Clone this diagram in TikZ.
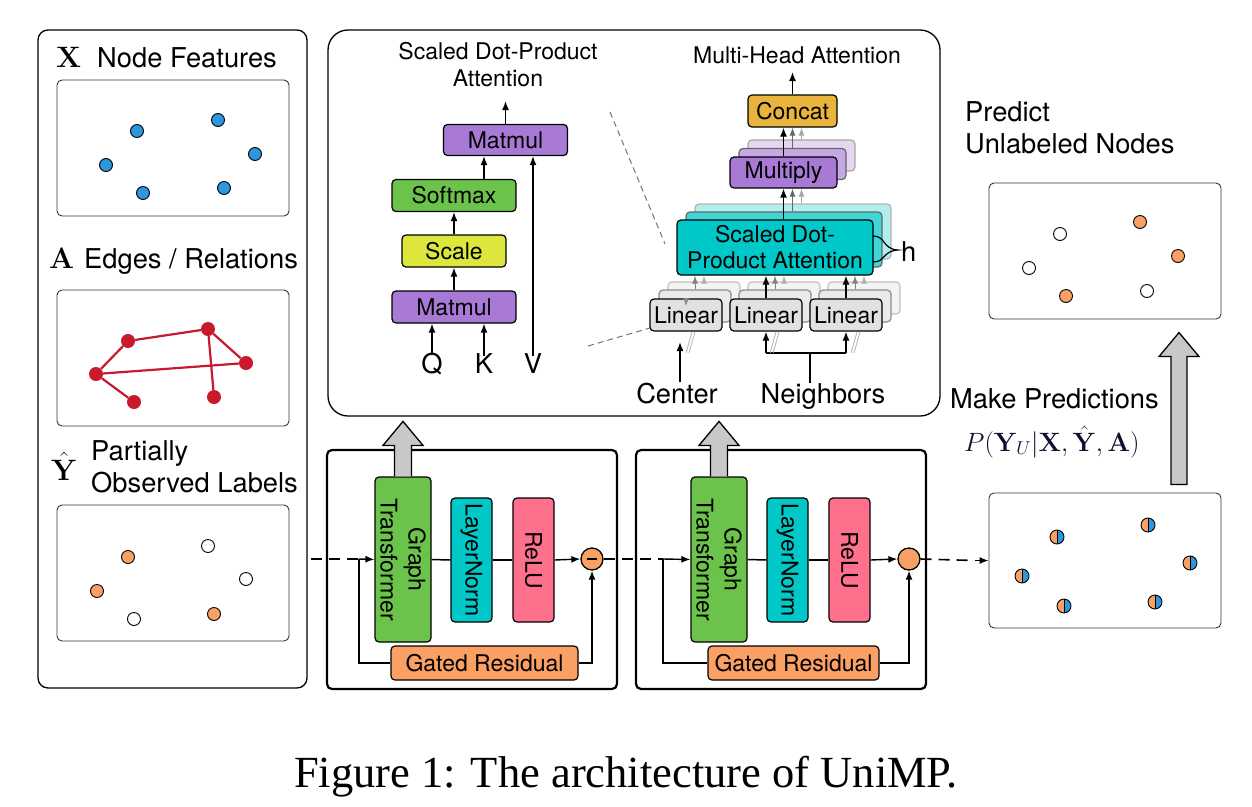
\RequirePackage{fix-cm}
\documentclass[tikz,border=0pt]{standalone}
\usepackage[no-math]{fontspec}
\setmainfont{TeX Gyre Heros}
\newfontfamily\capfont{Liberation Serif}
\usetikzlibrary{arrows.meta,calc}
\definecolor{cblue}{RGB}{45,150,220}
\definecolor{cred}{RGB}{200,25,45}
\definecolor{corange}{RGB}{250,160,100}
\definecolor{cgreen}{RGB}{108,195,75}
\definecolor{cteal}{RGB}{0,200,200}
\definecolor{cpink}{RGB}{255,112,140}
\definecolor{cpurple}{RGB}{168,122,214}
\definecolor{cyellow}{RGB}{220,230,60}
\definecolor{cgold}{RGB}{232,180,60}
\definecolor{clin}{RGB}{225,225,225}
\definecolor{cfat}{RGB}{200,200,200}
\definecolor{cmath}{RGB}{15,15,50}
\newcommand\bxf{\fontsize{23}{27}\selectfont}
\newcommand\lbf{\fontsize{27.3}{32}\selectfont}
\newcommand\msf{\fontsize{29.5}{32}\selectfont}
\begin{document}
\begin{tikzpicture}[x=1pt,y=-1pt,
  box/.style={draw=black, line width=1.2pt, rounded corners=4pt, inner sep=0pt, font=\bxf, align=center},
  panel/.style={draw=black, line width=1.3pt, rounded corners=10pt, inner sep=0pt},
  block/.style={draw=black, line width=2.2pt, rounded corners=5pt, inner sep=0pt},
  sbox/.style={draw=black!80, line width=0.9pt, rounded corners=5pt, inner sep=0pt, minimum width=232pt},
  arr/.style={-{Latex[length=9pt,width=7pt]}, line width=1.4pt},
  garr/.style={-{Latex[length=8pt,width=6pt]}, line width=1pt},
  dsh/.style={line width=1.6pt, dash pattern=on 11pt off 7pt},
  flow/.style={line width=1.5pt},
  lab/.style={font=\lbf, inner sep=0pt},
  msym/.style={font=\msf, inner sep=0pt},
  dot/.style={circle, draw=black, line width=0.9pt, minimum width=13pt, minimum height=12pt, inner sep=0pt},
  rdot/.style={circle, fill=cred, minimum size=14pt, inner sep=0pt},
  half/.style={circle, draw=black, line width=0.9pt, minimum size=14pt, inner sep=0pt,
    path picture={\fill[corange] (path picture bounding box.south west) rectangle (path picture bounding box.north);
                  \fill[cblue] (path picture bounding box.south) rectangle (path picture bounding box.north east);
                  \draw[line width=0.9pt] (path picture bounding box.south) -- (path picture bounding box.north);}},
  fat/.style={draw=black, fill=cfat, line width=1.3pt},
  faint/.style={draw=black!30, line width=0.8pt}
]
\useasboundingbox (0,0) rectangle (1252,806);

% ---------------- left panel ----------------
\node[panel, minimum width=269pt, minimum height=658pt] (left) at (172.5,359) {};
\node[msym, anchor=base west] (xsym) at (56,67) {$\mathbf{X}$};
\node[lab, anchor=base west] (xlab) at (97,67) {Node Features};
\node[sbox, minimum height=136pt] (bx1) at (173,148) {};
\foreach \n/\p in {b1/{(137,131)},b2/{(218,120)},b3/{(255,154)},b4/{(106,165)},b5/{(143,193)},b6/{(224,188)}}
  \node[dot, fill=cblue] (\n) at \p {};

\node[msym, anchor=base west] (asym) at (49,268) {$\mathbf{A}$};
\node[lab, anchor=base west] (alab) at (84,268) {Edges / Relations};
\node[sbox, minimum height=136pt] (bx2) at (173,358) {};
\node[rdot] (r1) at (128,341) {};
\node[rdot] (r2) at (208,329) {};
\node[rdot] (r3) at (246,363) {};
\node[rdot] (r4) at (96,374) {};
\node[rdot] (r5) at (134,402) {};
\node[rdot] (r6) at (214,397) {};
\begin{scope}[draw=cred, line width=2.2pt]
\draw (r4) -- (r1); \draw (r1) -- (r2); \draw (r2) -- (r3);
\draw (r2) -- (r6); \draw (r4) -- (r3); \draw (r4) -- (r5);
\end{scope}

\node[msym, anchor=base west] (ysym) at (51,480) {$\hat{\mathbf{Y}}$};
\node[lab, anchor=north west, align=left] (ylab) at (91,440) {Partially\\Observed Labels};
\node[sbox, minimum height=136pt] (bx3) at (173,573) {};
\node[dot, fill=corange] (y1) at (128,557) {};
\node[dot, fill=white] (y2) at (208,546) {};
\node[dot, fill=white] (y3) at (246,579) {};
\node[dot, fill=corange] (y4) at (97,591) {};
\node[dot, fill=white] (y5) at (134,619) {};
\node[dot, fill=corange] (y6) at (214,614) {};

% ---------------- top panel ----------------
\node[panel, rounded corners=20pt, minimum width=612pt, minimum height=386pt] (top) at (634,223) {};
% scaled dot-product attention
\node[font=\bxf, align=center, anchor=north, inner sep=0pt] (sdtitle) at (498,42) {Scaled Dot-Product\\Attention};
\node[box, fill=cpurple, minimum width=124pt, minimum height=31pt] (mm2) at (505.5,140) {Matmul};
\node[box, fill=cgreen, minimum width=124pt, minimum height=32pt] (soft) at (454,195.5) {Softmax};
\node[box, fill=cyellow, minimum width=104pt, minimum height=32pt] (scl) at (454,251) {Scale};
\node[box, fill=cpurple, minimum width=124pt, minimum height=32pt] (mm1) at (454,307) {Matmul};
\node[lab, anchor=base] (q) at (432,373) {Q};
\node[lab, anchor=base] (k) at (484,373) {K};
\node[lab, anchor=base] (v) at (533,373) {V};
\coordinate (sdout) at (505.5,101);
\draw[arr] (mm2.north) -- (sdout);
\draw[arr] (soft.north -| k) -- (mm2.south -| k);
\draw[arr] (scl) -- (soft);
\draw[arr] (mm1) -- (scl);
\draw[arr] ([yshift=-3pt]q.north) -- (mm1.south -| q);
\draw[arr] ([yshift=-3pt]k.north) -- (mm1.south -| k);
\draw[arr] ([yshift=-3pt]v.north) -- (mm2.south -| v);

% multi-head attention
\node[font=\bxf, inner sep=0pt] (mhtitle) at (797,55) {Multi-Head Attention};
\node[box, fill=cgold, minimum width=89pt, minimum height=32pt] (concat) at (792.5,111) {Concat};
\coordinate (mhout) at (792.5,72);
\draw[arr] (concat.north) -- (mhout);

\node[box, draw=black!35, fill=cpurple!30, minimum width=107pt, minimum height=31pt] (mul3) at (801.5,155.5) {};
\node[box, draw=black!60, fill=cpurple!65, minimum width=107pt, minimum height=31pt] (mul2) at (792.5,164) {};
\node[box, fill=cpurple, minimum width=107pt, minimum height=31pt] (mul) at (783.5,172.5) {Multiply};

\node[box, draw=black!30, fill=cteal!30, minimum width=196pt, minimum height=55pt] (sd3) at (793,231.5) {};
\node[box, draw=black!60, fill=cteal!75, minimum width=196pt, minimum height=55pt] (sd2) at (784,239.5) {};
\node[box, fill=cteal, minimum width=196pt, minimum height=55pt, font=\fontsize{23}{26}\selectfont] (sd) at (775,247.5) {Scaled Dot-\\Product Attention};

\foreach \i/\cx in {1/686,2/766,3/846}{
  \node[box, draw=black!25, fill=clin!40, minimum width=72pt, minimum height=32pt] (lin\i c) at (\cx+18,298) {};
  \node[box, draw=black!45, fill=clin!70, minimum width=72pt, minimum height=32pt] (lin\i b) at (\cx+9,306) {};
  \node[box, fill=clin, minimum width=72pt, minimum height=32pt] (lin\i) at (\cx,315) {Linear};
}

% arrows inside multi-head
\draw[arr] (mul.north -| mul) -- (concat.south -| mul);
\draw[garr, draw=black!60] (mul2.north) -- (concat.south -| mul2);
\draw[garr, draw=black!35] (mul3.north) -- (concat.south -| mul3);
\draw[arr] (sd.north -| mul) -- (mul.south);
\draw[garr, draw=black!60] (sd2.north -| mul2) -- (mul.south -| mul2);
\draw[garr, draw=black!35] (sd3.north -| mul3) -- (mul.south -| mul3);
\draw[garr, draw=black!45] (lin1.north) -- ([yshift=-8pt]lin1.north);
\draw[garr, draw=black!50] (lin1b.north) -- (sd.south -| lin1b);
\draw[garr, draw=black!30] (lin1c.north) -- (sd.south -| lin1c);
\foreach \i in {2,3}{
  \draw[arr] (lin\i.north) -- (sd.south -| lin\i);
  \draw[garr, draw=black!50] (lin\i b.north) -- (sd.south -| lin\i b);
  \draw[garr, draw=black!30] (lin\i c.north) -- (sd.south -| lin\i c);
}
% h brace
\draw[line width=1.2pt] (873,236) .. controls (886,236) and (882,249) .. (898,250)
                        .. controls (882,251) and (886,262) .. (873,262);
\node[lab, anchor=base west] (hl) at (901,261) {h};

% inputs
\node[lab, anchor=base] (cen) at (677,403) {Center};
\node[lab, anchor=base] (nei) at (823,403) {Neighbors};
\coordinate (cenend) at (680,342);
\draw[arr] (cenend |- cen.north) -- (cenend);
\coordinate (njoin) at (810,353);
\draw[line width=1.2pt] (njoin |- nei.north) -- (njoin);
\draw[line width=1.2pt] (njoin -| lin2) -- (njoin -| lin3);
\draw[arr] (njoin -| lin2) -- (lin2.south);
\draw[arr] (njoin -| lin3) -- (lin3.south);
\foreach \x in {686,770,851}{
  \draw[faint] (\x,353) -- (\x+6,332);
  \draw[faint] (\x+3,353) -- (\x+9,332);
}
% dashed zoom lines
\coordinate (z1a) at (610,112); \coordinate (z1b) at (665,244);
\coordinate (z2a) at (588,346); \coordinate (z2b) at (650,328);
\draw[black!55, line width=1pt, dash pattern=on 6pt off 4pt] (z1a) -- (z1b);
\draw[black!55, line width=1pt, dash pattern=on 6pt off 4pt] (z2a) -- (z2b);

% ---------------- bottom blocks ----------------
\node[block, minimum width=290pt, minimum height=239pt] (blk1) at (472,569.5) {};
\node[block, minimum width=290pt, minimum height=239pt] (blk2) at (781,569.5) {};

% rotated -90: node south = page left, node north = page right, node west = page top
\node[box, fill=cgreen, rotate=-90, minimum width=165pt, minimum height=56pt, font=\fontsize{23}{28}\selectfont] (gt1) at (403,559.5) {Graph\\Transformer};
\node[box, fill=cteal, rotate=-90, minimum width=124pt, minimum height=41pt] (ln1) at (471.5,560) {LayerNorm};
\node[box, fill=cpink, rotate=-90, minimum width=124pt, minimum height=41pt] (rl1) at (533.5,560) {ReLU};
\node[circle, draw=black, line width=1.3pt, fill=corange, minimum size=22pt, inner sep=0pt] (c1) at (592,559) {};
\draw[line width=1.6pt] ([xshift=-5pt]c1.center) -- ([xshift=5pt]c1.center);
\node[box, fill=corange, minimum width=187pt, minimum height=34pt] (gr1) at (484.5,663) {Gated Residual};

\node[box, fill=cgreen, rotate=-90, minimum width=165pt, minimum height=56pt, font=\fontsize{23}{28}\selectfont] (gt2) at (719,559.5) {Graph\\Transformer};
\node[box, fill=cteal, rotate=-90, minimum width=124pt, minimum height=41pt] (ln2) at (787.5,560) {LayerNorm};
\node[box, fill=cpink, rotate=-90, minimum width=124pt, minimum height=41pt] (rl2) at (849.5,560) {ReLU};
\node[circle, draw=black, line width=1.3pt, fill=corange, minimum size=22pt, inner sep=0pt] (c2) at (909,559) {};
\node[box, fill=corange, minimum width=171pt, minimum height=34pt] (gr2) at (793.5,663) {Gated Residual};

% main flow
\coordinate (din) at (311,559);
\coordinate (br1) at (359,559);
\coordinate (br2) at (663,559);
\draw[dsh] (din) -- (br1);
\draw[arr] (br1) -- (gt1.south);
\draw[flow] (gt1.north) -- (ln1.south);
\draw[flow] (ln1.north) -- (rl1.south);
\draw[arr] (rl1.north) -- (c1.west);
\draw[flow] (br1) |- (gr1.west);
\draw[arr] (gr1.east) -| (c1.south);
\draw[dsh] (c1.east) -- (br2);
\draw[arr] (br2) -- (gt2.south);
\draw[flow] (gt2.north) -- (ln2.south);
\draw[flow] (ln2.north) -- (rl2.south);
\draw[arr] (rl2.north) -- (c2.west);
\draw[flow] (br2) |- (gr2.west);
\draw[arr] (gr2.east) -| (c2.south);

% fat up arrows from transformers
\foreach \g in {gt1,gt2}{
  \draw[fat] let \p1=(\g.west) in
    (\x1-8.5pt,\y1) -- (\x1-8.5pt,\y1+31pt) -- (\x1-20pt,\y1+31pt) -- (\x1,\y1+55pt)
    -- (\x1+20pt,\y1+31pt) -- (\x1+8.5pt,\y1+31pt) -- (\x1+8.5pt,\y1);
}

% ---------------- right side ----------------
\node[lab, anchor=north west, align=left] (pred) at (965,101) {Predict\\Unlabeled Nodes};
\node[sbox, minimum height=136pt] (outbox) at (1105,251) {};
\node[dot, fill=white] (o1) at (1060,234) {};
\node[dot, fill=corange] (o2) at (1140,222) {};
\node[dot, fill=corange] (o3) at (1178,256) {};
\node[dot, fill=white] (o4) at (1029,268) {};
\node[dot, fill=corange] (o5) at (1066,296) {};
\node[dot, fill=white] (o6) at (1147,291) {};

\node[sbox, minimum height=135pt] (predbox) at (1105,560.5) {};
\node[half] (p1) at (1057,537) {};
\node[half] (p2) at (1148,525) {};
\node[half] (p3) at (1190,563) {};
\node[half] (p4) at (1022,576) {};
\node[half] (p5) at (1064,606) {};
\node[half] (p6) at (1155,602) {};
\draw[dsh] (c2.east) -- ([xshift=-14pt]predbox.west);
\draw[arr] ([xshift=-14pt]predbox.west) -- (predbox.west);

\node[lab, anchor=base west] (mk) at (950,408) {Make Predictions};
\node[font=\fontsize{26.5}{30}\selectfont, text=cmath, anchor=base west, inner sep=0pt] (form) at (964,451) {$P(\mathbf{Y}_U|\mathbf{X},\hat{\mathbf{Y}},\mathbf{A})$};

\draw[fat] let \p1=($(predbox.north)+(74,-8)$) in
  (\x1-8pt,\y1) -- (\x1-8pt,\y1+128pt) -- (\x1-20pt,\y1+128pt) -- (\x1,\y1+152pt)
  -- (\x1+20pt,\y1+128pt) -- (\x1+8pt,\y1+128pt) -- (\x1+8pt,\y1) -- cycle;

% caption
\node[font=\capfont\fontsize{44.5}{50}\selectfont, anchor=base, inner sep=0pt] (cap) at (626,787) {Figure 1: The architecture of UniMP.};
\end{tikzpicture}
\end{document}
